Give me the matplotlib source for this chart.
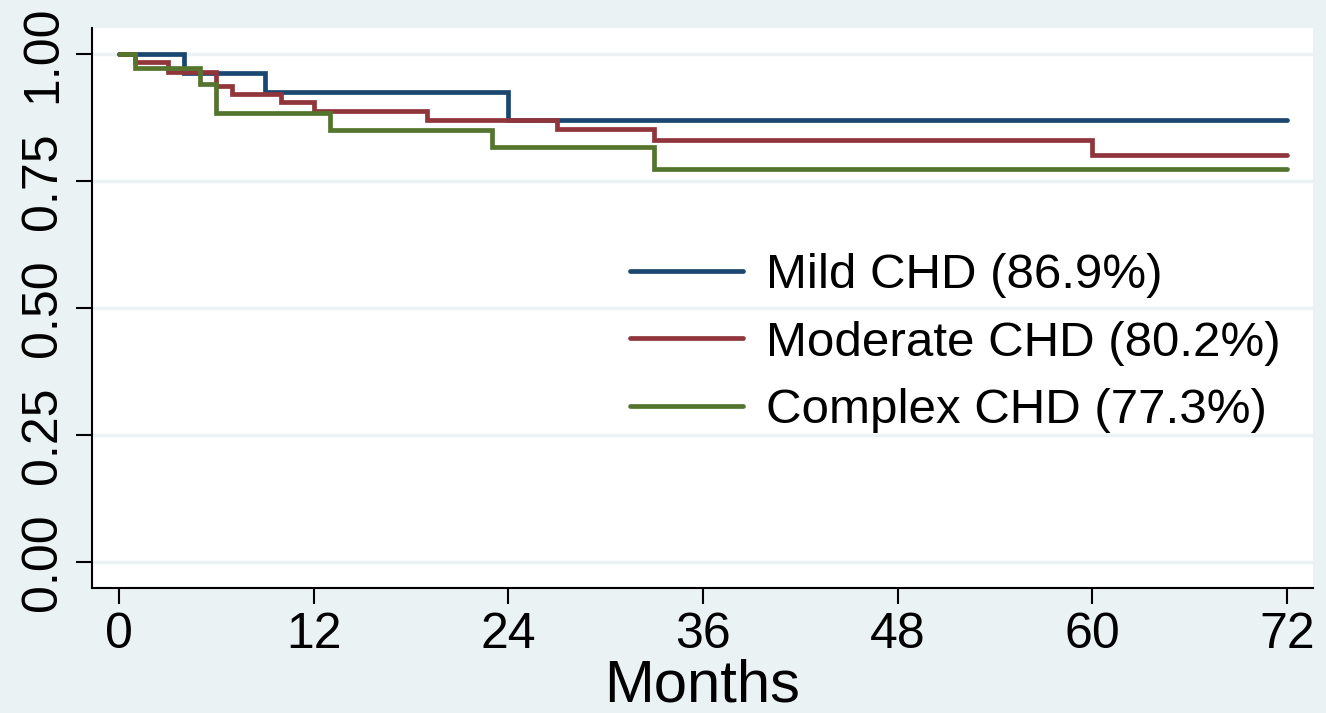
import numpy as np
import matplotlib.pyplot as plt

mild_t = [0, 4, 9, 24, 72]
mild_s = [1.0, 0.962, 0.925, 0.869, 0.869]

mod_t = [0, 1, 3, 6, 7, 10, 12, 19, 27, 33, 60, 72]
mod_s = [1.0, 0.984, 0.965, 0.936, 0.921, 0.905, 0.888, 0.870, 0.852, 0.830, 0.802, 0.802]

cmp_t = [0, 1, 5, 6, 13, 23, 33, 72]
cmp_s = [1.0, 0.972, 0.941, 0.883, 0.850, 0.816, 0.773, 0.773]

labels = ['Mild CHD (86.9%)', 'Moderate CHD (80.2%)', 'Complex CHD (77.3%)']
xticks = [0, 12, 24, 36, 48, 60, 72]
yticks = [0.0, 0.25, 0.5, 0.75, 1.0]

plt.rcParams['font.family'] = ['Liberation Sans', 'DejaVu Sans']
bg = '#eaf2f3'

fig = plt.figure(figsize=(13.26, 7.13), dpi=100, facecolor=bg)
ax = fig.add_axes([92/1326, 1-588/713, (1313-92)/1326, (588-28)/713])
ax.set_facecolor('white')

kleuren = ['#1a476f', '#90353b', '#55752f']
for t, s, c, lab in zip([mild_t, mod_t, cmp_t], [mild_s, mod_s, cmp_s], kleuren, labels):
    ax.step(t, s, where='post', color=c, lw=3.4, label=lab,
            solid_capstyle='round', solid_joinstyle='miter', zorder=3)

ax.set_xlim(-1.66, 73.6)
ax.set_ylim(-0.051, 1.051)
ax.set_xticks(xticks)
ax.set_yticks(yticks)
ax.set_yticklabels(['%.2f' % v for v in yticks], rotation=90, va='center')
ax.tick_params(axis='both', labelsize=36, length=11.5, width=1.5, color='black')
ax.tick_params(axis='x', pad=6)
ax.tick_params(axis='y', pad=7)
ax.yaxis.grid(True, color=bg, lw=2.5, zorder=0)
ax.set_axisbelow(True)
for k in ['top', 'right']:
    ax.spines[k].set_visible(False)
for k in ['left', 'bottom']:
    ax.spines[k].set_linewidth(1.5)

ax.set_xlabel('Months', fontsize=43, labelpad=0)

ax.legend(loc='upper left', bbox_to_anchor=(630/1326, 1-253/713),
          bbox_transform=fig.transFigure, frameon=False, fontsize=35.5,
          handlelength=2.3, handletextpad=0.45, labelspacing=0.46,
          borderpad=0, borderaxespad=0)

plt.savefig('out.png', dpi=100, facecolor=bg)
